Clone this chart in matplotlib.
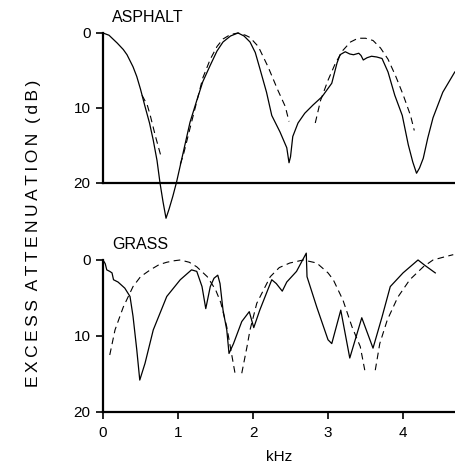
import numpy as np
import matplotlib.pyplot as plt

plt.rcParams['font.family'] = ['Liberation Sans', 'DejaVu Sans']

# %% datos (kHz, dB)
nan = np.nan

asf_f = [0, 0.08, 0.19, 0.27, 0.32, 0.40, 0.45, 0.50, 0.56, 0.62, 0.67, 0.72,
         0.76, 0.80, 0.84, 0.88, 0.93, 0.98, 1.07, 1.16, 1.25, 1.33, 1.43,
         1.52, 1.6, 1.7, 1.80, 1.88, 1.96, 2.03, 2.09, 2.18, 2.25, 2.36, 2.45,
         2.48, 2.50, 2.53, 2.60, 2.69, 2.80, 2.92, 3.05, 3.12, 3.16, 3.23,
         3.29, 3.34, 3.41, 3.44, 3.47, 3.52, 3.58, 3.65, 3.72, 3.80, 3.89,
         3.99, 4.07, 4.13, 4.18, 4.22, 4.27, 4.33, 4.40, 4.53, 4.69]
asf_db = [0, 0.3, 1.35, 2.2, 2.9, 4.5, 5.8, 7.5, 9.8, 12, 14.3, 17,
          20, 22.5, 24.7, 23.5, 21.8, 19.9, 15.9, 11.9, 9.0, 6.5, 4.3,
          2.4, 1.2, 0.4, 0, 0.4, 1.2, 2.6, 4.7, 7.9, 11, 13.2, 15.3,
          17.3, 16.5, 13.8, 12.0, 10.7, 9.6, 8.5, 6.7, 4.0, 2.9, 2.5,
          2.8, 2.9, 2.7, 3.0, 3.6, 3.3, 3.1, 3.2, 3.4, 5.2, 8.3,
          11, 14.9, 17.2, 18.7, 18.0, 16.7, 14.0, 11.3, 7.9, 5.2]

asf_teo_f = [0.52, 0.59, 0.63, 0.70, 0.78, nan,
             1.03, 1.07, 1.18, 1.33, 1.43, 1.52, 1.6, 1.7, 1.8, 1.9, 1.96,
             2.07, 2.2, 2.33, 2.43, 2.48, nan,
             2.83, 2.9, 3.0, 3.1, 3.2, 3.3, 3.4, 3.5, 3.6, 3.7, 3.8, 3.9,
             4.0, 4.1, 4.15]
asf_teo_db = [8.3, 9.6, 11, 13.8, 16.7, nan,
              17.5, 16.3, 11.9, 6.0, 3.5, 1.8, 0.8, 0.2, 0.0, 0.3, 0.6,
              1.8, 4.5, 7.6, 9.8, 11.8, nan,
              12, 9.0, 6.3, 4.0, 2.3, 1.2, 0.7, 0.7, 1.0, 2.0, 3.5, 5.7,
              8.2, 11, 13]

pasto_f = [0, 0.03, 0.05, 0.09, 0.12, 0.14, 0.2, 0.29, 0.36, 0.4, 0.45, 0.49,
           0.56, 0.67, 0.85, 1.03, 1.18, 1.25, 1.32, 1.37, 1.43, 1.48, 1.53,
           1.56, 1.6, 1.65, 1.68, 1.74, 1.85, 1.95, 2.01, 2.09, 2.25, 2.31,
           2.39, 2.45, 2.58, 2.71, 2.72, 2.85, 3.0, 3.05, 3.17, 3.29, 3.45,
           3.6, 3.72, 3.83, 4.0, 4.2, 4.29, 4.43]
pasto_db = [0, 0.5, 1.3, 1.5, 1.7, 2.6, 2.9, 3.7, 4.8, 7.4, 11.8, 15.8,
            13.6, 9.2, 4.8, 2.6, 1.3, 1.5, 3.5, 6.4, 3.5, 2.4, 2.0,
            3.1, 6.6, 9.2, 12.3, 11, 8.1, 6.8, 8.9, 6.6, 2.6, 3.1,
            4.1, 2.9, 1.5, -0.9, 2.2, 6.2, 10.5, 11, 6.6, 12.9, 7.6,
            11.6, 7.5, 3.5, 1.7, 0, 0.7, 1.7]

pasto_teo_f = [0.09, 0.16, 0.27, 0.4, 0.5, 0.63, 0.75, 0.85, 0.95, 1.03, 1.15,
               1.25, 1.39, 1.5, 1.57, 1.65, 1.76, nan,
               1.85, 1.92, 1.96, 2.05, 2.23, 2.35, 2.49, 2.67, 2.85, 3.0,
               3.07, 3.2, 3.32, 3.43, 3.49, nan,
               3.63, 3.69, 3.79, 3.93, 4.09, 4.27, 4.4, 4.55, 4.67]
pasto_teo_db = [12.5, 9.2, 6.2, 3.5, 2.2, 1.3, 0.6, 0.3, 0.1, 0.0, 0.3,
                0.9, 2.2, 3.9, 5.6, 8.8, 14.9, nan,
                14.9, 11.4, 9.2, 5.7, 2.2, 1.0, 0.4, 0.0, 0.4, 1.7,
                2.6, 5.3, 8.8, 11.4, 14.5, nan,
                14.5, 11, 7.9, 4.9, 2.6, 0.9, 0.0, -0.4, -0.7]

# %% figura
fig = plt.figure(figsize=(4.55, 4.66), dpi=100)
ax1 = fig.add_axes([0.2264, 0.6073, 0.7736, 0.3219])
ax2 = fig.add_axes([0.2264, 0.1159, 0.7736, 0.3262])

paneles = [(ax1, asf_f, asf_db, asf_teo_f, asf_teo_db, 'ASPHALT'),
           (ax2, pasto_f, pasto_db, pasto_teo_f, pasto_teo_db, 'GRASS')]

for ax, f, db, ft, dbt, nombre in paneles:
    ax.plot(f, db, color='black', lw=0.9, clip_on=False)
    ax.plot(ft, dbt, color='black', lw=0.8, dashes=(6, 4), clip_on=False)
    ax.set_xlim(0, 4.693)
    ax.set_ylim(20, 0)
    for s in ['top', 'right']:
        ax.spines[s].set_visible(False)
    ax.spines['left'].set_linewidth(1.6)
    ax.spines['bottom'].set_linewidth(1.6)
    ax.set_yticks([0, 10, 20])
    ax.tick_params(axis='y', direction='out', length=5, width=1.2,
                   labelsize=11, pad=4)
    ax.text(0.12, -2.0, nombre, fontsize=11.5, ha='left', va='center')

ax1.tick_params(axis='x', bottom=False, labelbottom=False)
ax2.set_xticks([0, 1, 2, 3, 4])
ax2.tick_params(axis='x', direction='out', length=5, width=1.2,
                labelsize=11, pad=5)
ax2.set_xlabel('kHz', fontsize=11, labelpad=7)

# etiqueta con letras espaciadas como en el original
palabras = ['EXCESS', 'ATTENUATION', '(dB)']
etiqueta = '  '.join('\u2009'.join(p) for p in palabras)
fig.text(0.073, 0.50, etiqueta, rotation=90,
         fontsize=12.5, ha='center', va='center')

fig.savefig('out.png', dpi=100)
